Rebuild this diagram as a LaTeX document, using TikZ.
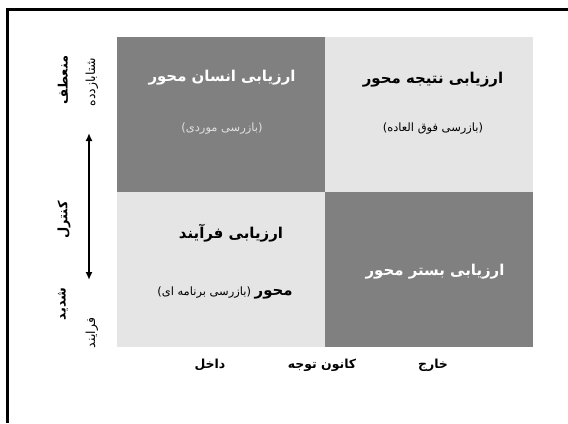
\documentclass[tikz,border=0pt]{standalone}
\usepackage{fontspec}
\newfontfamily\arabicfont[Script=Arabic]{DejaVu Sans}
\TeXXeTstate=1
\usetikzlibrary{arrows}
\usetikzlibrary{arrows.meta}

\definecolor{darkcell}{gray}{0.5}
\definecolor{lightcell}{gray}{0.9}
\definecolor{palesub}{gray}{0.88}

\tikzset{
    cell/.style={minimum width=208bp, minimum height=155bp, inner sep=0pt, outer sep=0pt, anchor=north west},
    title/.style={font=\arabicfont\bfseries\fontsize{15}{17}\selectfont},
    sub/.style={font=\arabicfont\fontsize{11.5}{13}\selectfont},
    axislabel/.style={font=\arabicfont\bfseries\fontsize{13}{15}\selectfont},
    sidelabel/.style={font=\arabicfont\fontsize{12.5}{14}\selectfont, rotate=90},
    baselabel/.style={font=\arabicfont\bfseries\fontsize{12.5}{14}\selectfont},
}

\begin{document}
\begin{tikzpicture}[x=1bp,y=-1bp]

    \useasboundingbox (0,0) rectangle (568,423);

    % frame, open on the right and at the bottom
    \draw [line width=3bp] (7.5,423) -- (7.5,9.5) -- (568,9.5);

    % the four cells
    \node [cell,fill=darkcell] (humancell) at (117,37) {};
    \node [cell,fill=lightcell] (resultcell) at (325,37) {};
    \node [cell,fill=lightcell] (processcell) at (117,192) {};
    \node [cell,fill=darkcell] (contextcell) at (325,192) {};

    % cell texts
    \node [title,text=white] (human) at (222,78) {\beginR ارزیابی انسان محور\endR};
    \node [sub,text=palesub] (humansub) at (222,129) {\beginR (بازرسی موردی)\endR};
    \node [title] (result) at (433,80) {\beginR ارزیابی نتیجه محور\endR};
    \node [sub] (resultsub) at (433,129) {\beginR (بازرسی فوق العاده)\endR};
    \node [title] (process) at (231,233) {\beginR ارزیابی فرآیند\endR};
    \node [sub] (processsub) at (225,293) {\beginR{\bfseries\fontsize{15}{17}\selectfont محور} (بازرسی برنامه ای)\endR};
    \node [title,text=white] (context) at (435,272) {\beginR ارزیابی بستر محور\endR};

    % vertical axis
    \node [axislabel,rotate=90] (flexible) at (63,80) {\beginR منعطف\endR};
    \node [axislabel,rotate=90] (control) at (64,220) {\beginR کنترل\endR};
    \node [axislabel,rotate=90] (strict) at (63,304) {\beginR شدید\endR};
    \node [sidelabel] (hasty) at (92,82) {\beginR شتابازدده\endR};
    \node [sidelabel] (procedure) at (92,333) {\beginR فرایند\endR};

    \coordinate (uptip) at (89,133);
    \coordinate (downtip) at (89,280);
    \draw [{Latex[length=8bp,width=7bp]}-{Latex[length=8bp,width=7bp]},line width=1.6bp] (uptip) -- (downtip);

    % horizontal axis
    \node [baselabel] (inside) at (210,365) {\beginR داخل\endR};
    \node [baselabel] (focus) at (322,365) {\beginR کانون توجه\endR};
    \node [baselabel] (outside) at (433,365) {\beginR خارج\endR};

\end{tikzpicture}
\end{document}
